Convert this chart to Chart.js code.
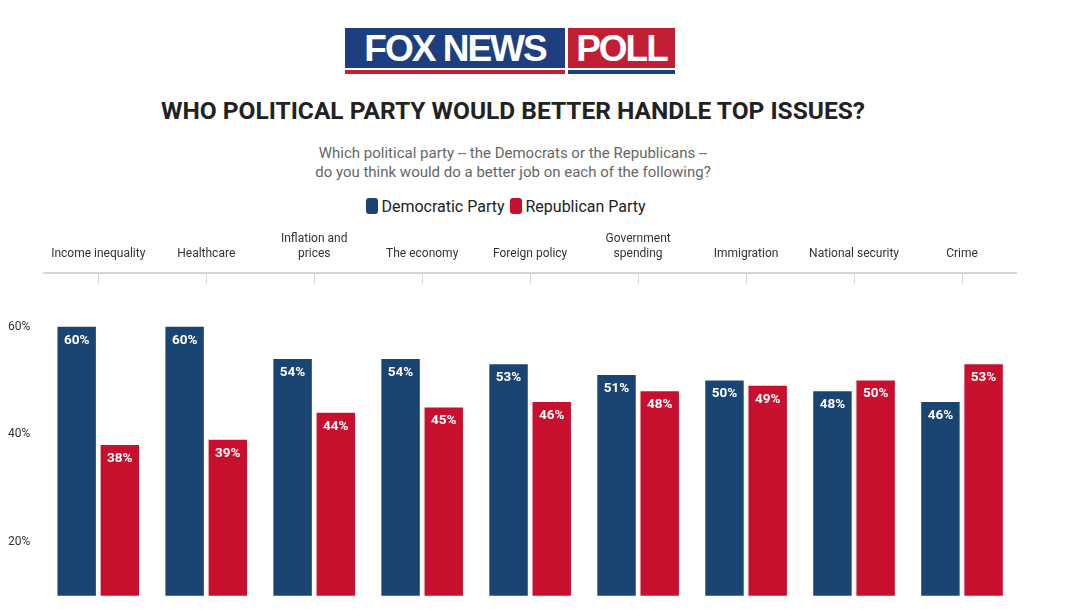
<!DOCTYPE html>
<html><head><meta charset="utf-8">
<script src="https://cdn.jsdelivr.net/npm/chart.js@4"></script>
<style>
body{margin:0;width:1080px;height:609px;background:#fff;font-family:Roboto,sans-serif;overflow:hidden;position:relative}
.logo{position:absolute;left:345px;top:28px;height:47px}
.b{position:absolute;top:0;height:40px;color:#fff;font:900 37px/41px "Liberation Sans",Arial,sans-serif;letter-spacing:-2px;text-align:center}
.s{position:absolute;top:42px;height:4px}
h1{position:absolute;top:96px;left:0;width:1026px;text-align:center;margin:0;font:700 24.5px Roboto;color:#222}
.sub{position:absolute;top:144px;left:0;width:1026px;text-align:center;font:15px/19px Roboto;color:#666}
.leg{position:absolute;top:197px;left:0;width:1010px;text-align:center;font:16px Roboto;color:#222}
.leg i{display:inline-block;width:12px;height:16px;border-radius:3px;vertical-align:-2px;margin:0 3px 0 2px}
#wrap{position:absolute;left:0;top:228px;width:1080px;height:381px}
</style></head><body>
<div class="logo">
<div class="b" style="left:0;width:220px;background:#1e3f7f">FOX NEWS</div>
<div class="b" style="left:223px;width:107px;background:#c21f34">POLL</div>
<div class="s" style="left:0;width:220px;background:#c21f34"></div>
<div class="s" style="left:223px;width:107px;background:#1e3f7f"></div>
</div>
<h1>WHO POLITICAL PARTY WOULD BETTER HANDLE TOP ISSUES?</h1>
<div class="sub">Which political party -- the Democrats or the Republicans --<br>do you think would do a better job on each of the following?</div>
<div class="leg"><i style="background:#1a4472"></i>Democratic Party <i style="background:#c8102e"></i>Republican Party</div>
<div id="wrap"><canvas id="c"></canvas></div>
<script>
const categories = [['Income inequality'], ['Healthcare'], ['Inflation and', 'prices'], ['The economy'], ['Foreign policy'], ['Government', 'spending'], ['Immigration'], ['National security'], ['Crime']];
const democratic = [60, 60, 54, 54, 53, 51, 50, 48, 46];
const republican = [38, 39, 44, 45, 46, 48, 49, 50, 53];
const yTicks = [20, 40, 60];

const innerMarks = {
  id: 'innerMarks',
  afterDraw(chart) {
    const ctx = chart.ctx, x = chart.scales.x, top = chart.chartArea.top;
    ctx.save();
    ctx.strokeStyle = '#d6d6d6'; ctx.lineWidth = 1;
    categories.forEach((c, i) => {
      const px = Math.round(x.getPixelForValue(i)) + 0.5;
      ctx.beginPath(); ctx.moveTo(px, top); ctx.lineTo(px, top + 11); ctx.stroke();
    });
    ctx.fillStyle = '#fff'; ctx.font = 'bold 13.5px Roboto'; ctx.textAlign = 'center';
    chart.data.datasets.forEach((ds, di) => {
      chart.getDatasetMeta(di).data.forEach((bar, i) => {
        ctx.fillText(ds.data[i] + '%', bar.x, bar.y + 17);
      });
    });
    ctx.restore();
  }
};

new Chart(document.getElementById('c'), {
  type: 'bar',
  data: {
    labels: categories,
    datasets: [
      { label: 'Democratic Party', data: democratic, backgroundColor: '#1a4472' },
      { label: 'Republican Party', data: republican, backgroundColor: '#c8102e' }
    ]
  },
  options: {
    responsive: true, maintainAspectRatio: false, animation: false,
    layout: { padding: { left: 2, right: 64, top: 0, bottom: -20 } },
    categoryPercentage: 0.8, barPercentage: 0.89,
    plugins: { legend: { display: false }, tooltip: { enabled: false } },
    scales: {
      x: {
        position: 'top',
        grid: { display: false },
        border: { color: '#d6d6d6', width: 2 },
        ticks: { color: '#333', font: { family: 'Roboto', size: 12 }, maxRotation: 0, padding: 4 }
      },
      y: {
        min: 10, max: 70,
        afterBuildTicks(s) { s.ticks = yTicks.map(v => ({ value: v })); },
        grid: { display: false }, border: { display: false },
        ticks: { color: '#333', font: { family: 'Roboto', size: 12 }, callback: v => v + '%', padding: 6 }
      }
    }
  },
  plugins: [innerMarks]
});
</script>
</body></html>
